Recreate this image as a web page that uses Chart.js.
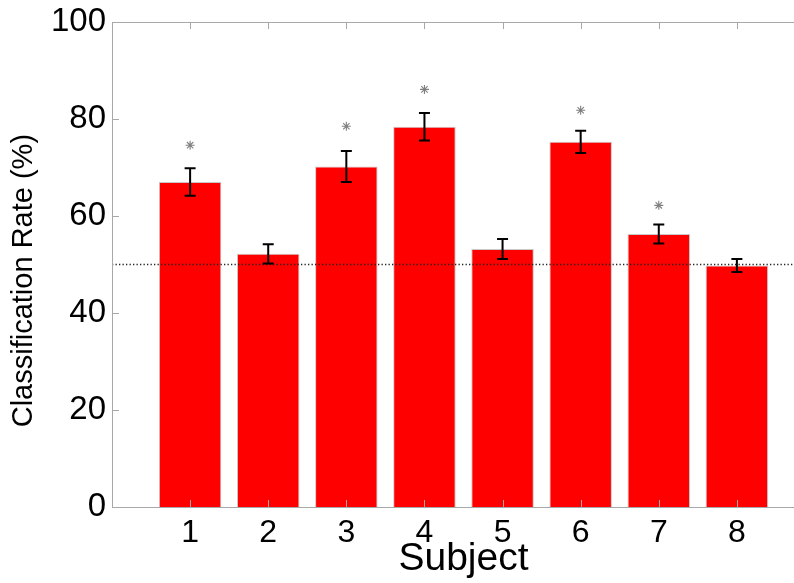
<!DOCTYPE html>
<html>
<head>
<meta charset="utf-8">
<script src="https://cdn.jsdelivr.net/npm/chart.js@4"></script>
<style>
  html, body { margin: 0; padding: 0; background: #fff; overflow: hidden; }
  #wrap { width: 794px; height: 583px; overflow: hidden; position: relative; }
  canvas { display: block; }
</style>
</head>
<body>
<div id="wrap"><canvas id="c" width="830" height="583"></canvas></div>
<script>
// ---- Data ----
const subjects = [1, 2, 3, 4, 5, 6, 7, 8];
const rates = [67.0, 52.2, 70.2, 78.4, 53.2, 75.3, 56.3, 49.8];
const errors = [2.85, 2.0, 3.2, 2.85, 2.05, 2.3, 1.95, 1.35];
const starLevels = [74.6, null, 78.5, 86.1, null, 81.8, 62.2, null];
const chanceLevel = 50;
const yTickValues = [0, 20, 40, 60, 80, 100];
const xRange = [0, 9];

const FONT = "'Liberation Sans', Arial, sans-serif";
const AXIS_GRAY = '#a8a8a8';

const barData = subjects.map((s, i) => ({ x: s, y: rates[i] }));
const starData = subjects.map((s, i) => ({ x: s, y: starLevels[i] })).filter(p => p.y !== null);
const chanceData = [{ x: xRange[0], y: chanceLevel }, { x: xRange[1], y: chanceLevel }];

const boxAndTicks = {
  id: 'boxAndTicks',
  afterDatasetsDraw(chart) {
    const { ctx, chartArea: a, scales } = chart;
    const xs = scales.x, ys = scales.y;
    ctx.save();
    // error bars
    ctx.strokeStyle = '#000';
    ctx.lineWidth = 2;
    subjects.forEach((s, i) => {
      const px = xs.getPixelForValue(s);
      const hi = ys.getPixelForValue(rates[i] + errors[i]);
      const lo = ys.getPixelForValue(rates[i] - errors[i]);
      ctx.beginPath();
      ctx.moveTo(px, hi); ctx.lineTo(px, lo);
      ctx.moveTo(px - 5.5, hi); ctx.lineTo(px + 5.5, hi);
      ctx.moveTo(px - 5.5, lo); ctx.lineTo(px + 5.5, lo);
      ctx.stroke();
    });
    // axes box
    ctx.strokeStyle = AXIS_GRAY;
    ctx.lineWidth = 1;
    ctx.strokeRect(Math.round(a.left) + 0.5, Math.round(a.top) + 0.5,
                   Math.round(a.right - a.left), Math.round(a.bottom - a.top));
    // inward ticks
    ctx.beginPath();
    yTickValues.forEach(v => {
      const py = Math.round(ys.getPixelForValue(v)) + 0.5;
      ctx.moveTo(a.left, py); ctx.lineTo(a.left + 7, py);
      ctx.moveTo(a.right, py); ctx.lineTo(a.right - 7, py);
    });
    subjects.forEach(v => {
      const px = Math.round(xs.getPixelForValue(v)) + 0.5;
      ctx.moveTo(px, a.top); ctx.lineTo(px, a.top + 7);
      ctx.moveTo(px, a.bottom); ctx.lineTo(px, a.bottom - 7);
    });
    ctx.stroke();
    ctx.restore();
  }
};

new Chart(document.getElementById('c'), {
  type: 'bar',
  data: {
    datasets: [
      {
        type: 'bar',
        data: barData,
        backgroundColor: '#ff0000',
        borderColor: '#c8c8c8',
        borderWidth: 1,
        barPercentage: 0.8,
        categoryPercentage: 1.0,
        order: 2
      },
      {
        type: 'line',
        data: chanceData,
        borderColor: '#222',
        borderWidth: 1.3,
        borderDash: [1.3, 2.2],
        pointRadius: 0,
        fill: false,
        order: 1
      },
      {
        type: 'scatter',
        data: starData,
        pointStyle: 'star',
        radius: 4.5,
        borderColor: '#808080',
        backgroundColor: '#808080',
        borderWidth: 1.1,
        order: 0
      }
    ]
  },
  options: {
    responsive: false,
    animation: false,
    layout: { padding: { top: 22, right: 15, left: 0, bottom: 0 } },
    plugins: { legend: { display: false }, tooltip: { enabled: false } },
    scales: {
      x: {
        type: 'linear',
        offset: false,
        min: xRange[0],
        max: xRange[1],
        afterBuildTicks: s => { s.ticks = subjects.map(v => ({ value: v })); },
        afterFit: s => { s.height = 76; s.paddingLeft = 0; s.paddingRight = 0; },
        grid: { display: false, drawTicks: false, offset: false },
        border: { display: false },
        ticks: {
          color: '#000',
          font: { family: FONT, size: 32 },
          padding: 7,
          callback: v => String(v)
        },
        title: {
          display: true,
          text: 'Subject',
          color: '#000',
          font: { family: FONT, size: 39 },
          padding: { top: -9, bottom: 0 }
        }
      },
      y: {
        min: 0,
        max: 100,
        afterBuildTicks: s => { s.ticks = yTickValues.map(v => ({ value: v })); },
        afterFit: s => { s.width = 112; s.paddingTop = 0; s.paddingBottom = 0; },
        grid: { display: false, drawTicks: false },
        border: { display: false },
        ticks: {
          color: '#000',
          font: { family: FONT, size: 33 },
          padding: 6
        },
        title: {
          display: true,
          text: 'Classification Rate (%)    ',
          color: '#000',
          font: { family: FONT, size: 29 },
          padding: { top: 7, bottom: 0 }
        }
      }
    }
  },
  plugins: [boxAndTicks]
});
</script>
</body>
</html>
